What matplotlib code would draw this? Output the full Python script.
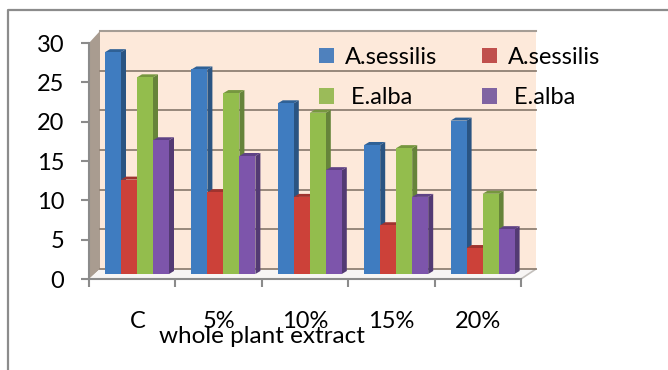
import matplotlib
matplotlib.use('Agg')
import matplotlib.pyplot as plt
from matplotlib.lines import Line2D
from matplotlib.patches import Patch
from matplotlib.transforms import ScaledTranslation

plt.rcParams['font.family'] = ['Lato', 'DejaVu Sans']

# chart data
categories = ['C', '5%', '10%', '15%', '20%']
series_names = ['A.sessilis', 'A.sessilis', ' E.alba', ' E.alba']
blue_vals = [28.2, 26.0, 21.7, 16.4, 19.5]
red_vals = [12.0, 10.4, 9.8, 6.2, 3.3]
green_vals = [25.0, 23.0, 20.5, 16.0, 10.2]
purple_vals = [17.0, 15.0, 13.2, 9.8, 5.7]
yticks = [0, 5, 10, 15, 20, 25, 30]
x_title = 'whole plant extract'

front_cols = ['#3f7cc0', '#cc4139', '#93bd4d', '#7d55ab']
side_cols = ['#2a5482', '#8a2a26', '#66843a', '#533a73']
top_cols = ['#2f6196', '#a0332e', '#76973f', '#5f4285']
legend_cols = ['#4f81bd', '#c0504d', '#9bbb59', '#8064a2']

W, H = 668, 370
FS = 17
fig = plt.figure(figsize=(W / 100, H / 100), dpi=100)
# front plane of the fake 3D box
left, right, bottom, top = 89, 521, 279, 43
ax = fig.add_axes([left / W, 1 - bottom / H, (right - left) / W, (bottom - top) / H])
ax.set_xlim(0, 5)
ax.set_ylim(0, 30)
ax.patch.set_visible(False)

# size of one pixel in data units
px = 5 / (right - left)
py = 30 / (bottom - top)

# back wall, side wall, floor
wall_x0, wall_x1 = 11 * px, 447 * px
wall_y0, wall_y1 = 10 * py, 248 * py
ax.fill([wall_x0, wall_x1, wall_x1, wall_x0], [wall_y0, wall_y0, wall_y1, wall_y1],
        color='#fde9da', lw=0, clip_on=False, zorder=1)
ax.fill([0, wall_x0, wall_x0, 0], [0, wall_y0, wall_y1, 30],
        color='#a99c90', lw=0, clip_on=False, zorder=1)
ax.fill([0, wall_x0, wall_x1, 5], [0, wall_y0, wall_y0, 0],
        color='#f7f5f4', lw=0, clip_on=False, zorder=1)
ax.plot([wall_x0, wall_x1], [wall_y1, wall_y1], color='#a59d95', lw=1.5, clip_on=False, zorder=2)
ax.plot([5, wall_x1], [0, wall_y0], color='#c4c0bc', lw=1.2, clip_on=False, zorder=2)

# gridlines on the back wall
for v in yticks[:-1]:
    gy = wall_y0 + v * (wall_y1 - wall_y0) / 30
    ax.plot([wall_x0, wall_x1], [gy, gy], color='#8f8074', lw=1.3, clip_on=False, zorder=2)

# bars
all_vals = [blue_vals, red_vals, green_vals, purple_vals]
bar_w = 16 * px
base = 5 * py
dep_x, dep_y = 5 * px, 3 * py
z = 3
for i in range(len(categories)):
    for s, vals in enumerate(all_vals):
        x0 = i + 16 * px + s * bar_w
        x1 = x0 + bar_w
        t = vals[i] + base
        ax.fill([x1, x1 + dep_x, x1 + dep_x, x1], [base, base + dep_y, t + dep_y, t],
                color=side_cols[s], lw=0, clip_on=False, zorder=z)
        ax.fill([x0, x0 + dep_x, x1 + dep_x, x1], [t, t + dep_y, t + dep_y, t],
                color=top_cols[s], lw=0, clip_on=False, zorder=z)
        ax.bar(x0, vals[i], bar_w, bottom=base, align='edge', color=front_cols[s], lw=0,
               clip_on=False, zorder=z + 0.5)
        z += 1

# axes
for name in ['top', 'right']:
    ax.spines[name].set_visible(False)
for name in ['left', 'bottom']:
    ax.spines[name].set_color('#8b8b8b')
    ax.spines[name].set_linewidth(1.5)
    ax.spines[name].set_zorder(100)
ax.set_yticks(yticks)
ax.set_xticks(range(6))
ax.set_xticklabels([])
ax.set_xticks([i + 0.5 for i in range(5)], labels=categories, minor=True)
ax.tick_params(axis='x', which='major', length=5.8, width=1.5, color='#8b8b8b')
ax.tick_params(axis='x', which='minor', length=0, pad=23, labelsize=FS)
ax.tick_params(axis='y', length=5.8, width=1.5, color='#8b8b8b', pad=12, labelsize=FS)
# the C label sits a bit right of its slot
lab = ax.xaxis.get_minorticklabels()[0]
lab.set_transform(lab.get_transform() + ScaledTranslation(6 / 100, 0, fig.dpi_scale_trans))

ax.set_xlabel(x_title, fontsize=17.5)
ax.xaxis.set_label_coords((262 - left) / (right - left), (bottom - 326) / (bottom - top))

# legend
handles = [Patch(color=c, lw=0) for c in legend_cols]
order = [0, 2, 1, 3]
ax.legend([handles[k] for k in order], [series_names[k] for k in order], ncol=2,
          loc='upper left', bbox_to_anchor=(319 / W, 1 - 47 / H), bbox_transform=fig.transFigure,
          frameon=False, fontsize=FS, handlelength=0.63, handleheight=0.63, handletextpad=0.46,
          labelspacing=0.82, columnspacing=1.9, borderpad=0, borderaxespad=0)

# outer frame of the pasted picture
fig.add_artist(Line2D([8 / W, 8 / W, 1], [0, 1 - 10 / H, 1 - 10 / H], color='#8c8c8c', lw=1.6))

fig.savefig('out.png', dpi=100)
